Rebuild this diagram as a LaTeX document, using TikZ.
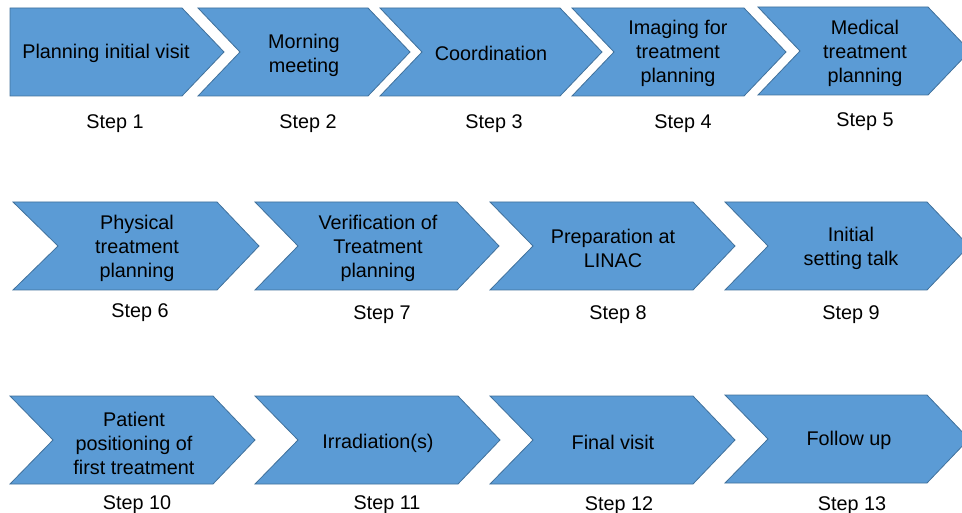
\documentclass[tikz,border=0pt]{standalone}
\usepackage{fontspec}
\setmainfont{Liberation Sans}
\usepackage{xcolor}
\usepackage{tikz}
\usetikzlibrary{positioning}

\definecolor{chevblue}{HTML}{5B9BD5}
\definecolor{chevline}{HTML}{41719C}

\begin{document}
\begin{tikzpicture}[
      x=1pt, y=-1pt,
      chev/.style={fill=chevblue, draw=chevline, line width=0.8pt, line join=miter},
      every node/.style={inner sep=0pt, font=\fontsize{19.8}{24}\selectfont},
      lbl/.style={align=center, text=black},
      steplbl/.style={text=black}
    ]
      \useasboundingbox (0,0) rectangle (962,513);
      \clip (0,0) rectangle (962,513);
      % chevrons: left / right / top / notch depth
      \foreach \l/\r/\t/\nd in {10/182/8/0, 198/368/8/42, 380/560/8/42, 572/744/8/42, 758/928/7/42,
                               13/217/202/45, 255/457/202/43, 490/693/202/43, 725/927/202/43,
                               10/213/396/43, 255/458/396/43, 490/693/396/43, 725/927/395/43}
        \draw[chev] (\l,\t) -- (\r,\t) -- (\r+42,\t+44) -- (\r,\t+88) -- (\l,\t+88)
                    -- (\l+\nd,\t+44) -- cycle;

      % row 1
      \node[lbl] (s1) at (106,53.5) {Planning initial visit};
      \node[lbl] (s2) at (304,55) {Morning\\meeting};
      \node[lbl] (s3) at (491,53.5) {Coordination};
      \node[lbl] (s4) at (678,53) {Imaging for\\treatment\\planning};
      \node[lbl] (s5) at (865,53) {Medical\\treatment\\planning};
      % row 2
      \node[lbl] (s6) at (137,248) {Physical\\treatment\\planning};
      \node[lbl] (s7) at (378,248) {Verification of\\Treatment\\planning};
      \node[lbl] (s8) at (613,248) {Preparation at\\LINAC};
      \node[lbl] (s9) at (851,248.5) {Initial\\setting talk};
      % row 3
      \node[lbl] (s10) at (134,443) {Patient\\positioning of\\first treatment};
      \node[lbl] (s11) at (378,443.5) {Irradiation(s)};
      \node[lbl] (s12) at (613,442) {Final visit};
      \node[lbl] (s13) at (849,440.5) {Follow up};

      % step labels
      \node[steplbl] (st1) at (115,123.5) {Step 1};
      \node[steplbl] (st2) at (308,123.5) {Step 2};
      \node[steplbl] (st3) at (494,123.5) {Step 3};
      \node[steplbl] (st4) at (683,124) {Step 4};
      \node[steplbl] (st5) at (865,121.5) {Step 5};
      \node[steplbl] (st6) at (140,312.5) {Step 6};
      \node[steplbl] (st7) at (382,314.5) {Step 7};
      \node[steplbl] (st8) at (618,314.5) {Step 8};
      \node[steplbl] (st9) at (851,314.5) {Step 9};
      \node[steplbl] (st10) at (137,504.5) {Step 10};
      \node[steplbl] (st11) at (387,504.5) {Step 11};
      \node[steplbl] (st12) at (619,505.5) {Step 12};
      \node[steplbl] (st13) at (852,505.5) {Step 13};
    \end{tikzpicture}
\end{document}
